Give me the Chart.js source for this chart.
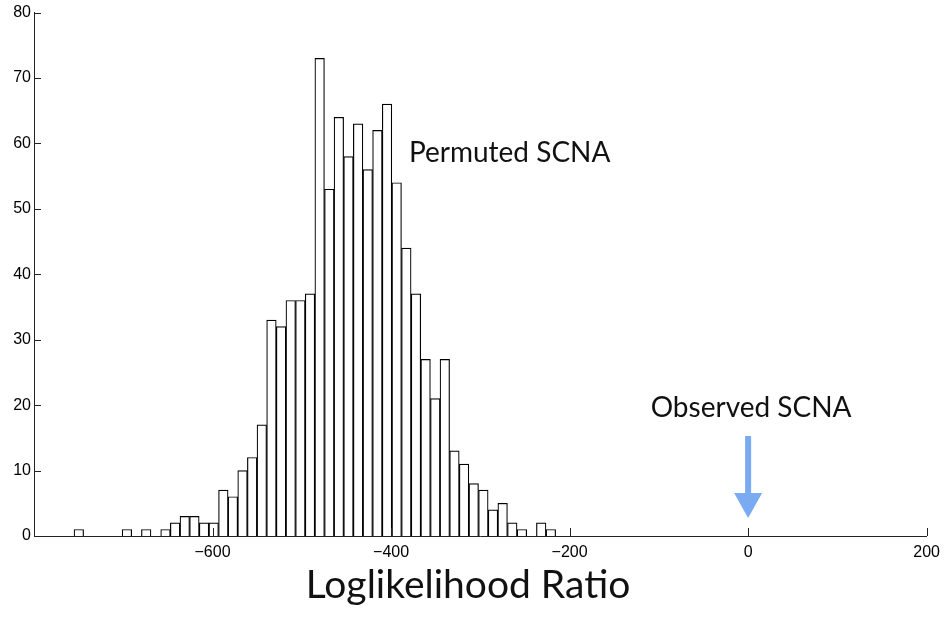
<!DOCTYPE html>
<html>
<head>
<meta charset="utf-8">
<script src="https://cdn.jsdelivr.net/npm/chart.js@4.4.1/dist/chart.umd.min.js"></script>
<style>
  html, body { margin: 0; padding: 0; background: #fff; }
  #wrap { width: 947px; height: 618px; position: relative; }
</style>
</head>
<body>
<div id="wrap"><canvas id="c"></canvas></div>
<script>
// bin centres of the permutation histogram (50 bins)
const binCenters = [
  -749.8, -739.0, -728.2, -717.4, -706.6, -695.9, -685.1, -674.3, -663.5, -652.7,
  -641.9, -631.1, -620.3, -609.5, -598.7, -587.9, -577.2, -566.4, -555.6, -544.8,
  -534.0, -523.2, -512.4, -501.6, -490.8, -480.0, -469.2, -458.5, -447.7, -436.9,
  -426.1, -415.3, -404.5, -393.7, -382.9, -372.1, -361.3, -350.5, -339.8, -329.0,
  -318.2, -307.4, -296.6, -285.8, -275.0, -264.2, -253.4, -242.6, -231.8, -221.0,
];
const binCounts = [
  1, 0, 0, 0, 0, 1, 0, 1, 0, 1,
  2, 3, 3, 2, 2, 7, 6, 10, 12, 17,
  33, 32, 36, 36, 37, 73, 53, 64, 58, 63,
  56, 62, 66, 54, 44, 37, 27, 21, 27, 13,
  11, 8, 7, 4, 5, 2, 1, 0, 2, 1,
];
const xTicks = [-800, -600, -400, -200, 0, 200];
const yTicks = [0, 10, 20, 30, 40, 50, 60, 70, 80];
const observedValue = 0;

const axisTitle = "Loglikelihood Ratio";
const permutedLabel = "Permuted SCNA";
const observedLabel = "Observed SCNA";

const labelFont = "Lato, 'Open Sans', sans-serif";
const tickFont = "'Liberation Sans', Arial, sans-serif";
const arrowColor = "#79aaf2";

// inward tick marks, MATLAB style
const innerTicks = {
  id: "innerTicks",
  afterDraw(chart) {
    const { ctx, chartArea, scales } = chart;
    ctx.save();
    ctx.strokeStyle = "#222";
    ctx.lineWidth = 1;
    ctx.beginPath();
    xTicks.forEach((v) => {
      const px = Math.round(scales.x.getPixelForValue(v)) + 0.5;
      ctx.moveTo(px, chartArea.bottom);
      ctx.lineTo(px, chartArea.bottom - 8);
    });
    yTicks.forEach((v) => {
      const py = Math.round(scales.y.getPixelForValue(v)) + 0.5;
      ctx.moveTo(chartArea.left, py);
      ctx.lineTo(chartArea.left + 7, py);
    });
    ctx.stroke();
    ctx.restore();
  },
};

const annotations = {
  id: "annotations",
  afterDraw(chart) {
    const { ctx, chartArea, scales } = chart;
    const ox = scales.x.getPixelForValue(observedValue);
    const base = chartArea.bottom;
    ctx.save();

    // arrow pointing at the observed value
    ctx.fillStyle = arrowColor;
    ctx.fillRect(ox - 3, base - 100, 6, 57);
    ctx.beginPath();
    ctx.moveTo(ox - 14, base - 43);
    ctx.lineTo(ox + 14, base - 43);
    ctx.lineTo(ox, base - 18);
    ctx.closePath();
    ctx.fill();

    ctx.fillStyle = "#111";
    ctx.textBaseline = "alphabetic";
    ctx.font = "28px " + labelFont;
    ctx.textAlign = "left";
    ctx.fillText(permutedLabel, scales.x.getPixelForValue(-380), 162);
    ctx.textAlign = "center";
    ctx.fillText(observedLabel, ox + 3, 417);

    ctx.font = "39px " + labelFont;
    ctx.fillText(axisTitle, 468, 598);
    ctx.restore();
  },
};

new Chart(document.getElementById("c"), {
  type: "bar",
  data: {
    datasets: [
      {
        label: "Permuted SCNA",
        data: binCenters.map((x, i) => ({ x, y: binCounts[i] })),
        backgroundColor: "#fff",
        borderColor: "#000",
        borderWidth: 1.2,
        barPercentage: 1,
        categoryPercentage: 1,
      },
    ],
  },
  options: {
    responsive: true,
    maintainAspectRatio: false,
    animation: false,
    layout: { padding: { left: 0, top: 12, right: 20, bottom: 0 } },
    plugins: { legend: { display: false }, tooltip: { enabled: false } },
    scales: {
      x: {
        type: "linear",
        min: -800,
        max: 200,
        offset: false,
        afterFit: (s) => { s.height = 82; },
        afterBuildTicks: (s) => { s.ticks = xTicks.map((v) => ({ value: v })); },
        grid: { display: false, drawTicks: false, offset: false },
        border: { display: true, color: "#222", width: 1 },
        ticks: {
          padding: 7,
          color: "#000",
          maxRotation: 0,
          font: { family: tickFont, size: 16 },
          callback: (v) => (v === -800 ? "" : String(v).replace("-", "\u2212")),
        },
      },
      y: {
        min: 0,
        max: 80,
        afterFit: (s) => { s.width = 34; },
        afterBuildTicks: (s) => { s.ticks = yTicks.map((v) => ({ value: v })); },
        grid: { display: false, drawTicks: false },
        border: { display: true, color: "#222", width: 1 },
        ticks: {
          padding: 3,
          color: "#000",
          font: { family: tickFont, size: 16 },
        },
      },
    },
  },
  plugins: [innerTicks, annotations],
});
</script>
</body>
</html>
